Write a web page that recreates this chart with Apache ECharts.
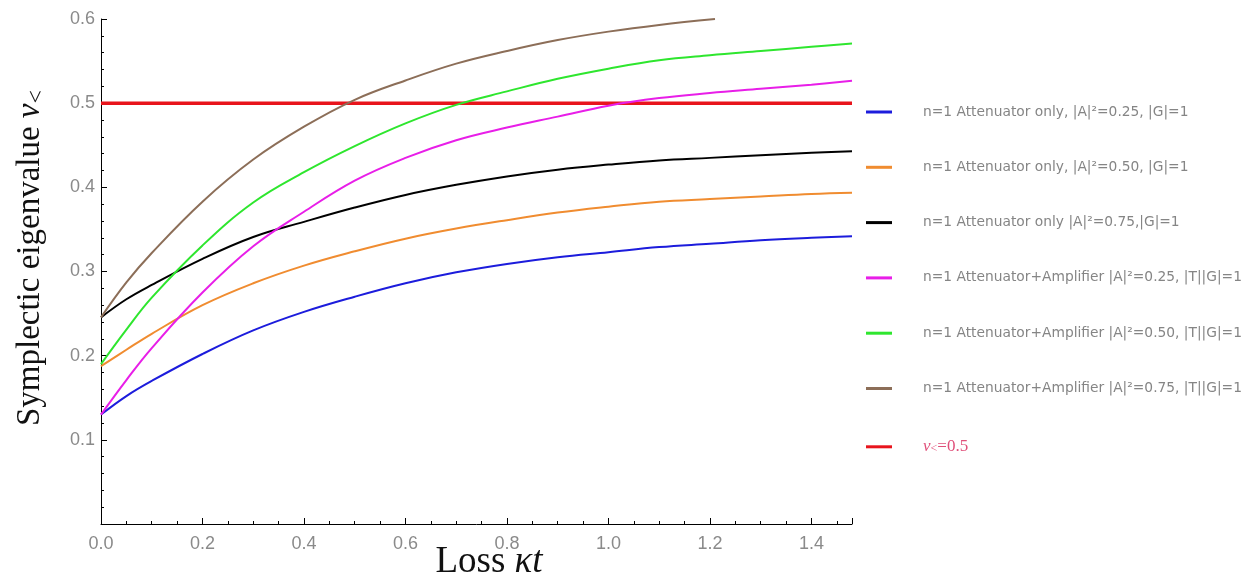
<!DOCTYPE html>
<html>
<head>
<meta charset="utf-8">
<title>Symplectic eigenvalue vs loss</title>
<script src="https://cdn.jsdelivr.net/npm/echarts@6/dist/echarts.min.js"></script>
<style>
  html, body { margin: 0; padding: 0; background: #ffffff; }
  #chart { width: 1258px; height: 579px; }
</style>
</head>
<body>
<div id="chart"></div>
<script>
// Loss kt sample positions shared by the curves
const lossX = [0, 0.05, 0.1, 0.2, 0.3, 0.4, 0.5, 0.6, 0.7, 0.8, 0.9, 1.0, 1.1, 1.2, 1.3, 1.4, 1.48];
// Brown curve leaves the plot range at 0.6, so it stops earlier
const lossXBrown = [0, 0.05, 0.1, 0.2, 0.3, 0.4, 0.5, 0.6, 0.7, 0.8, 0.9, 1.0, 1.1, 1.21];

// Attenuator only
const attA025 = [0.130, 0.152, 0.170, 0.202, 0.230, 0.252, 0.270, 0.286, 0.299, 0.309, 0.317, 0.323, 0.329, 0.333, 0.337, 0.340, 0.342];
const attA050 = [0.1875, 0.207, 0.226, 0.260, 0.286, 0.307, 0.324, 0.339, 0.351, 0.361, 0.370, 0.377, 0.383, 0.386, 0.389, 0.392, 0.3935];
const attA075 = [0.2455, 0.267, 0.284, 0.315, 0.341, 0.359, 0.376, 0.391, 0.403, 0.413, 0.421, 0.427, 0.432, 0.435, 0.438, 0.441, 0.443];
// Attenuator + amplifier
const ampA025 = [0.130, 0.171, 0.209, 0.275, 0.330, 0.371, 0.408, 0.435, 0.456, 0.471, 0.484, 0.497, 0.506, 0.512, 0.517, 0.522, 0.5265];
const ampA050 = [0.190, 0.231, 0.269, 0.331, 0.382, 0.418, 0.449, 0.476, 0.498, 0.514, 0.529, 0.541, 0.551, 0.557, 0.562, 0.567, 0.571];
const ampA075 = [0.2455, 0.287, 0.322, 0.383, 0.433, 0.472, 0.504, 0.527, 0.547, 0.562, 0.575, 0.585, 0.593, 0.600];
// Threshold line
const thresholdX = [0, 1.48];
const thresholdY = [0.5, 0.5];

const seriesNames = [
  'n=1 Attenuator only, |A|²=0.25, |G|=1',
  'n=1 Attenuator only, |A|²=0.50, |G|=1',
  'n=1 Attenuator only |A|²=0.75,|G|=1',
  'n=1 Attenuator+Amplifier |A|²=0.25, |T||G|=1',
  'n=1 Attenuator+Amplifier |A|²=0.50, |T||G|=1',
  'n=1 Attenuator+Amplifier |A|²=0.75, |T||G|=1',
  'ν<=0.5'
];
const seriesColors = ['#1c1cdc', '#f08c30', '#000000', '#e81ee8', '#2ee62e', '#8c6e58', '#e8141c'];

const xTicks = [0, 0.2, 0.4, 0.6, 0.8, 1.0, 1.2, 1.4];
const yTicks = [0.1, 0.2, 0.3, 0.4, 0.5, 0.6];

function pairs(xs, ys) { return xs.map((x, i) => [x, ys[i]]); }
function isTick(v, list) { return list.some(t => Math.abs(t - v) < 1e-9); }

const curves = [
  [lossX, attA025], [lossX, attA050], [lossX, attA075],
  [lossX, ampA025], [lossX, ampA050], [lossXBrown, ampA075]
];

const series = curves.map((c, i) => ({
  name: seriesNames[i],
  type: 'line',
  data: pairs(c[0], c[1]),
  showSymbol: false,
  smooth: 0.4,
  color: seriesColors[i],
  lineStyle: { width: 2, color: seriesColors[i] },
  z: 3
}));
series.push({
  name: seriesNames[6],
  type: 'line',
  data: pairs(thresholdX, thresholdY),
  showSymbol: false,
  color: seriesColors[6],
  lineStyle: { width: 3.5, color: seriesColors[6] },
  z: 2
});

const tickFont = { fontFamily: 'Liberation Sans', fontSize: 18, color: '#8a8a8a' };

const chart = echarts.init(document.getElementById('chart'), null, { renderer: 'canvas' });
chart.setOption({
  animation: false,
  backgroundColor: '#ffffff',
  grid: { left: 101, top: 19, width: 751, height: 505, containLabel: false },
  xAxis: {
    type: 'value',
    min: 0, max: 1.48, interval: 0.2,
    splitLine: { show: false },
    axisLine: { onZero: false, lineStyle: { color: '#000', width: 1 } },
    axisTick: { inside: true, length: 6, lineStyle: { color: '#000' } },
    minorTick: { show: true, splitNumber: 4, length: 3, lineStyle: { color: '#000' } },
    axisLabel: Object.assign({
      margin: 11,
      formatter: v => isTick(v, xTicks) ? v.toFixed(1) : ''
    }, tickFont)
  },
  yAxis: {
    type: 'value',
    min: 0, max: 0.6, interval: 0.1,
    splitLine: { show: false },
    axisLine: { show: true, onZero: false, lineStyle: { color: '#000', width: 1 } },
    axisTick: { show: true, inside: true, length: 6, lineStyle: { color: '#000' } },
    minorTick: { show: true, splitNumber: 5, length: 3, lineStyle: { color: '#000' } },
    axisLabel: Object.assign({
      margin: 6,
      formatter: v => isTick(v, yTicks) ? v.toFixed(1) : ''
    }, tickFont)
  },
  legend: {
    orient: 'vertical',
    left: 861,
    top: 99,
    itemWidth: 26,
    itemHeight: 3,
    itemGap: 39.3,
    icon: 'rect',
    selectedMode: false,
    data: seriesNames,
    formatter: name => name === seriesNames[6] ? '{nu|ν}{sub|<}{rest|=0.5}' : name,
    textStyle: {
      fontFamily: 'DejaVu Sans',
      fontSize: 13.8,
      lineHeight: 16,
      color: '#858585',
      padding: [0, 0, 0, 26],
      rich: {
        nu: { fontFamily: 'Liberation Serif', fontStyle: 'italic', fontSize: 17, color: '#e0507a', lineHeight: 16 },
        sub: { fontFamily: 'Liberation Serif', fontSize: 12, color: '#e0507a', verticalAlign: 'bottom', lineHeight: 16, padding: [7, 0, 0, 0] },
        rest: { fontFamily: 'Liberation Serif', fontSize: 17, color: '#e0507a', lineHeight: 16 }
      }
    }
  },
  graphic: [
    {
      type: 'text',
      x: 30, y: 258,
      rotation: Math.PI / 2,
      style: {
        text: '{a|Symplectic eigenvalue }{b|ν}{c|<}',
        align: 'center',
        verticalAlign: 'middle',
        rich: {
          a: { fontFamily: 'Liberation Serif', fontSize: 33, fill: '#111' },
          b: { fontFamily: 'Liberation Serif', fontStyle: 'italic', fontSize: 33, fill: '#111' },
          c: { fontFamily: 'Liberation Serif', fontSize: 24, fill: '#111', padding: [13, 0, 0, 0] }
        }
      }
    },
    {
      type: 'text',
      x: 489, y: 562,
      style: {
        text: '{a|Loss }{b|κt}',
        align: 'center',
        verticalAlign: 'middle',
        rich: {
          a: { fontFamily: 'Liberation Serif', fontSize: 37, fill: '#111' },
          b: { fontFamily: 'Liberation Serif', fontStyle: 'italic', fontSize: 37, fill: '#111' }
        }
      }
    }
  ],
  series: series
});
</script>
</body>
</html>
